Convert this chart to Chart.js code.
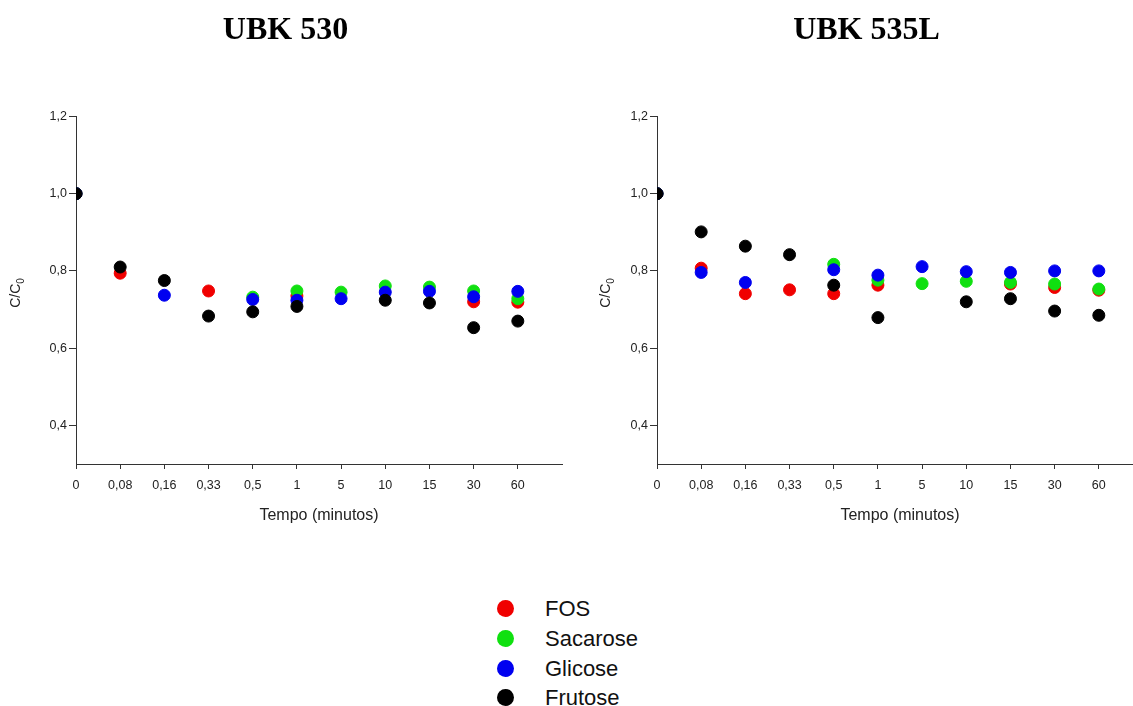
<!DOCTYPE html>
<html>
<head>
<meta charset="utf-8">
<script src="https://cdn.jsdelivr.net/npm/chart.js@4/dist/chart.umd.min.js"></script>
<style>
  html, body { margin: 0; padding: 0; background: #fff; overflow: hidden; }
  body { width: 1133px; height: 706px; position: relative; }
  canvas { position: absolute; top: 0; }
  #c530 { left: 0; }
  #c535 { left: 581px; }
  .legend { position: absolute; left: 0; top: 0; font-family: 'Liberation Sans', Arial, sans-serif; font-size: 22px; color: #111; }
  .legend .row { position: absolute; left: 497px; height: 30px; width: 200px; }
  .legend .dot { position: absolute; left: 0; top: 6px; width: 17px; height: 17px; border-radius: 50%; }
  .legend .txt { position: absolute; left: 48px; top: 2px; line-height: 26px; }
</style>
</head>
<body>
<canvas id="c530" width="571" height="542"></canvas>
<canvas id="c535" width="571" height="542"></canvas>
<div class="legend" id="legend"></div>

<script>
// ─── Données ──────────────────────────────────────────────────────
const TEMPOS = ['0', '0,08', '0,16', '0,33', '0,5', '1', '5', '10', '15', '30', '60'];
const Y_TICKS = [0.4, 0.6, 0.8, 1.0, 1.2];

// UBK 530
const FOS_530      = [1.0, 0.794, null, 0.748, null, 0.735, null, null, null, 0.720, 0.719];
const SACAROSE_530 = [1.0, null, null, null, 0.732, 0.748, 0.745, 0.761, 0.758, 0.748, 0.728];
const GLICOSE_530  = [1.0, null, 0.737, null, 0.726, 0.724, 0.728, 0.745, 0.747, 0.733, 0.747];
const FRUTOSE_530  = [1.0, 0.810, 0.775, 0.683, 0.694, 0.708, null, 0.724, 0.717, 0.653, 0.670];

// UBK 535L
const FOS_535      = [1.0, 0.807, 0.741, 0.751, 0.741, 0.763, null, null, 0.766, 0.757, 0.750];
const SACAROSE_535 = [1.0, null, null, null, 0.817, 0.776, 0.767, 0.773, 0.770, 0.766, 0.753];
const GLICOSE_535  = [1.0, 0.796, 0.770, null, 0.803, 0.789, 0.811, 0.798, 0.796, 0.800, 0.800];
const FRUTOSE_535  = [1.0, 0.901, 0.864, 0.842, 0.763, 0.679, null, 0.720, 0.728, 0.696, 0.685];

const SERIES = [
  { label: 'FOS',      color: '#f00000', order: 4 },
  { label: 'Sacarose', color: '#10e010', order: 3 },
  { label: 'Glicose',  color: '#0000f0', order: 2 },
  { label: 'Frutose',  color: '#000000', order: 1 },
];

const FONT = "'Liberation Sans', Arial, sans-serif";

// ─── Titre Y "C/C0" avec indice ───────────────────────────────────
const yTitlePlugin = {
  id: 'yTitle',
  afterDraw(chart, args, opts) {
    const ctx = chart.ctx;
    ctx.save();
    ctx.translate(opts.x, 293);
    ctx.rotate(-Math.PI / 2);
    ctx.fillStyle = '#222';
    ctx.textBaseline = 'middle';
    ctx.font = '14px ' + FONT;
    const w1 = ctx.measureText('C/C').width;
    ctx.font = '10px ' + FONT;
    const w2 = ctx.measureText('0').width;
    const x0 = -(w1 + w2) / 2;
    ctx.font = '14px ' + FONT;
    ctx.fillText('C/C', x0, 0);
    ctx.font = '10px ' + FONT;
    ctx.fillText('0', x0 + w1, 5);
    ctx.restore();
  },
};

function toPoints(values) {
  return values.map((v, i) => ({ x: i, y: v }));
}

function buildChart(canvasId, title, seriesValues, yTitleX) {
  const datasets = SERIES.map((s, k) => ({
    label: s.label,
    data: toPoints(seriesValues[k]),
    backgroundColor: s.color,
    borderColor: s.color,
    borderWidth: 1,
    pointRadius: 6,
    showLine: false,
    order: s.order,
  }));

  new Chart(document.getElementById(canvasId), {
    type: 'scatter',
    data: { datasets },
    plugins: [yTitlePlugin],
    options: {
      responsive: false,
      animation: false,
      devicePixelRatio: 1,
      layout: { padding: { left: 0, right: 0, top: 0, bottom: 16 } },
      plugins: {
        legend: { display: false },
        tooltip: { enabled: false },
        title: {
          display: true,
          text: title,
          color: '#000',
          font: { family: "'Liberation Serif', 'Times New Roman', serif", size: 32, weight: 'bold' },
          padding: { top: 12, bottom: 66 },
        },
        yTitle: { x: yTitleX },
      },
      scales: {
        x: {
          type: 'linear',
          min: 0,
          max: 11,
          afterBuildTicks: scale => {
            scale.ticks = TEMPOS.map((t, i) => ({ value: i })).concat([{ value: 11 }]);
          },
          afterFit: scale => { scale.height = 62; },
          ticks: {
            autoSkip: false,
            maxRotation: 0,
            padding: 9,
            color: '#222',
            font: { family: FONT, size: 12.5 },
            callback: v => TEMPOS[v] ?? '',
          },
          grid: {
            drawOnChartArea: false,
            drawTicks: true,
            tickLength: 5,
            tickColor: ctx => (ctx.tick && ctx.tick.value === 11 ? 'rgba(0,0,0,0)' : '#333'),
          },
          border: { color: '#333', width: 1 },
          title: {
            display: true,
            text: 'Tempo (minutos)',
            color: '#222',
            font: { family: FONT, size: 16 },
            padding: { top: 0, bottom: 1 },
          },
        },
        y: {
          type: 'linear',
          min: 0.3,
          max: 1.2,
          afterBuildTicks: scale => {
            scale.ticks = Y_TICKS.map(v => ({ value: v }));
          },
          afterFit: scale => { scale.width = 76; },
          ticks: {
            padding: 2,
            color: '#222',
            font: { family: FONT, size: 12.5 },
            callback: v => v.toFixed(1).replace('.', ','),
          },
          grid: { drawOnChartArea: false, drawTicks: true, tickLength: 7, tickColor: '#333' },
          border: { color: '#333', width: 1 },
        },
      },
    },
  });
}

buildChart('c530', 'UBK 530', [FOS_530, SACAROSE_530, GLICOSE_530, FRUTOSE_530], 16);
buildChart('c535', 'UBK 535L', [FOS_535, SACAROSE_535, GLICOSE_535, FRUTOSE_535], 25);

// ─── Légende commune ──────────────────────────────────────────────
const LEGEND_Y = [594, 624, 654, 683];
const legendEl = document.getElementById('legend');
SERIES.forEach((s, i) => {
  legendEl.insertAdjacentHTML('beforeend',
    `<div class="row" style="top:${LEGEND_Y[i]}px"><span class="dot" style="background:${s.color}"></span><span class="txt">${s.label}</span></div>`);
});
</script>
</body>
</html>
